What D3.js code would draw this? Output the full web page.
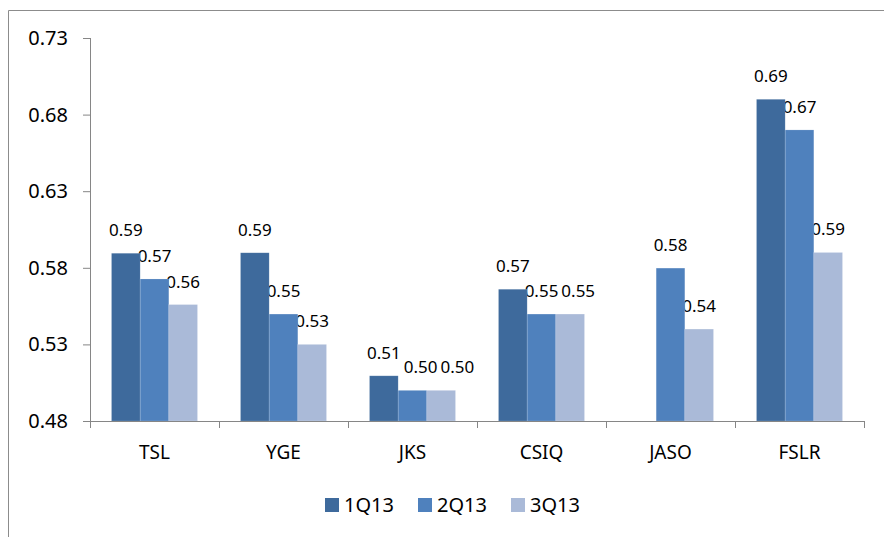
<!DOCTYPE html>
<html>
<head>
<meta charset="utf-8">
<script src="https://d3js.org/d3.v7.min.js"></script>
<style>
  body { margin: 0; background: #fff; }
  svg { font-family: "Noto Sans", "Open Sans", sans-serif; }
</style>
</head>
<body>
<svg id="svg1"></svg>
<script>
// chart values
var companies = ["TSL", "YGE", "JKS", "CSIQ", "JASO", "FSLR"];
var quarters = ["1Q13", "2Q13", "3Q13"];
var q1 = [0.5895, 0.5898, 0.5095, 0.566, null, 0.690];
var q2 = [0.5727, 0.5498, 0.500, 0.5498, 0.5798, 0.670];
var q3 = [0.556, 0.530, 0.500, 0.5498, 0.540, 0.590];
var yTicks = [0.48, 0.53, 0.58, 0.63, 0.68, 0.73];
var colors = ["#3E6A9C", "#4F81BD", "#AABAD8"];

var series = [q1, q2, q3];

var width = 884, height = 537;
var margin = {top: 38, right: 20, bottom: 116, left: 90};
var plotW = 864 - margin.left;

var svg = d3.select("#svg1")
  .attr("width", width)
  .attr("height", height);

// outer frame of the chart area (runs off right and bottom)
svg.append("path")
  .attr("d", "M8.5,545V10.5H900")
  .attr("fill", "none")
  .attr("stroke", "#8c8c8c")
  .attr("stroke-width", 1);

var g = svg.append("g")
  .attr("transform", "translate(" + margin.left + "," + margin.top + ")");

var h = 421 - margin.top;

var x = d3.scaleBand()
  .domain(companies)
  .range([0, plotW])
  .paddingInner(1 / 3)
  .paddingOuter(1 / 6);

var xs = d3.scaleBand()
  .domain(quarters)
  .range([0, x.bandwidth()]);

var y = d3.scaleLinear()
  .domain([0.48, 0.73])
  .range([h, 0]);

var labelLayer = g.append("g");

// bars
quarters.forEach(function (q, i) {
  var vals = series[i];
  var rows = companies.map(function (c, j) { return {c: c, v: vals[j], q: q}; })
    .filter(function (d) { return d.v != null; });

  g.append("g").selectAll("rect")
    .data(rows)
    .enter()
    .append("rect")
      .attr("x", function (d) { return x(d.c) + xs(q); })
      .attr("y", function (d) { return y(d.v); })
      .attr("width", xs.bandwidth())
      .attr("height", function (d) { return h - y(d.v); })
      .attr("fill", colors[i])
      .attr("stroke", "#ffffff")
      .attr("stroke-opacity", 0.25)
      .attr("stroke-width", 0.6);

  labelLayer.selectAll(".lab" + i)
    .data(rows)
    .enter()
    .append("text")
      .attr("class", "lab lab" + i)
      .attr("x", function (d) { return x(d.c) + xs(q) + xs.bandwidth() / 2; })
      .attr("y", function (d) { return y(d.v) - 17; })
      .attr("text-anchor", "middle")
      .attr("font-size", "17px")
      .attr("fill", "#000")
      .text(function (d) { return d3.format(".2f")(d.v); });
});

// push value labels right when they bump into the one before (like excel does)
companies.forEach(function (c) {
  var prev = null;
  labelLayer.selectAll("text.lab")
    .filter(function (d) { return d.c == c; })
    .each(function () {
      var b = this.getBBox();
      if (prev && b.x < prev.x + prev.width + 3 && Math.abs(b.y - prev.y) < b.height) {
        var dx = prev.x + prev.width + 3 - b.x;
        d3.select(this).attr("x", +d3.select(this).attr("x") + dx);
        b = this.getBBox();
      }
      prev = b;
    });
});

// Y axis
var yAxis = g.append("g")
  .call(d3.axisLeft(y).tickValues(yTicks).tickFormat(d3.format(".2f")).tickSize(7).tickPadding(15));
yAxis.select(".domain").attr("stroke", "#868686").attr("d", "M0.5," + h + "V0");
yAxis.selectAll(".tick line").attr("stroke", "#868686");
yAxis.selectAll("text").attr("font-size", "20px").attr("fill", "#000")
  .attr("font-family", "Noto Sans, Open Sans, sans-serif");

// X axis with ticks at category boundaries
var xa = g.append("g")
  .attr("transform", "translate(0," + h + ")");
xa.append("line")
  .attr("x1", 0).attr("x2", plotW)
  .attr("y1", 0.5).attr("y2", 0.5)
  .attr("stroke", "#868686");
xa.selectAll(".bt")
  .data(d3.range(companies.length + 1))
  .enter()
  .append("line")
    .attr("x1", function (d) { return Math.round(d * x.step()) + 0.5; })
    .attr("x2", function (d) { return Math.round(d * x.step()) + 0.5; })
    .attr("y1", 0).attr("y2", 7)
    .attr("stroke", "#868686");
xa.selectAll(".cl")
  .data(companies)
  .enter()
  .append("text")
    .attr("x", function (d) { return x(d) + x.bandwidth() / 2; })
    .attr("y", 38)
    .attr("text-anchor", "middle")
    .attr("font-size", "19px")
    .attr("fill", "#000")
    .text(function (d) { return d; });

// legend
var legend = svg.append("g")
  .attr("transform", "translate(325,498)");
var li = legend.selectAll("g")
  .data(quarters)
  .enter()
  .append("g")
    .attr("transform", function (d, i) { return "translate(" + (i * 93) + ",0)"; });
li.append("rect")
  .attr("width", 14).attr("height", 14)
  .attr("fill", function (d, i) { return colors[i]; });
li.append("text")
  .attr("x", 19).attr("y", 14)
  .attr("font-size", "20px")
  .attr("fill", "#000")
  .text(function (d) { return d; });
</script>
</body>
</html>
